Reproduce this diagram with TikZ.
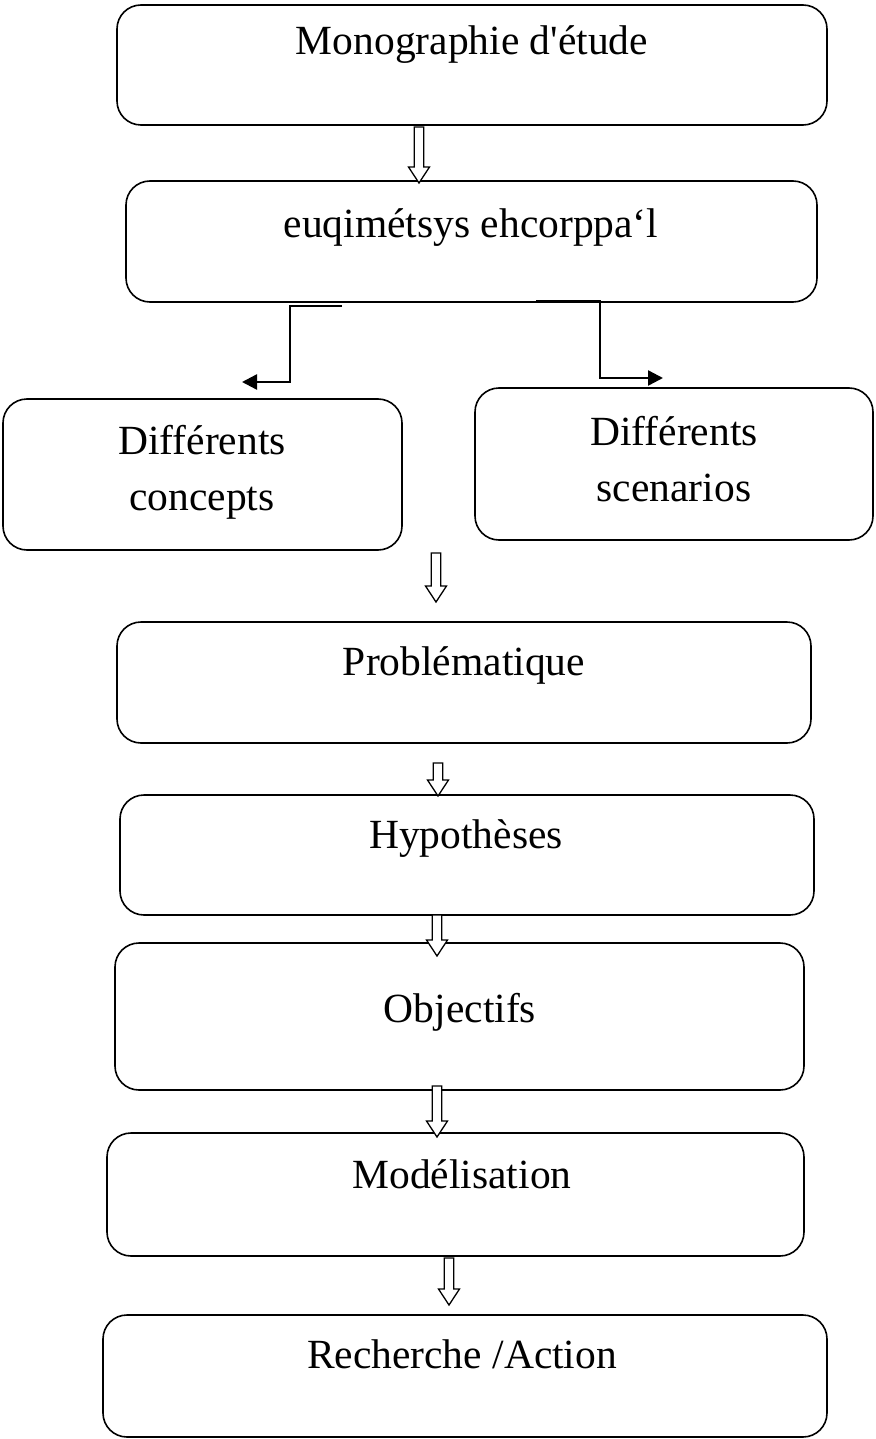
\documentclass[tikz,border=0pt]{standalone}
\usepackage{fontspec}
\setmainfont{Liberation Serif}[Ligatures=TeXOff]
\usetikzlibrary{arrows.meta}
\tikzset{
  x=1pt, y=-1pt,
  box/.style={draw, line width=1.6pt, rounded corners=24pt, inner sep=0pt},
  lbl/.style={anchor=base, inner sep=0pt, font=\fontsize{41.5}{49}\selectfont},
  elbow/.style={line width=2.4pt, -{Triangle[length=15pt,width=15pt]}},
  hollow/.style={draw, line width=1.3pt, fill=white, line join=miter}
}
\newcommand{\hollowarrow}[3]{% x, ytop, ybottom(tip)
  \path[hollow] (#1-4.7,#2) -- (#1+4.7,#2) -- (#1+4.7,#3-16) -- (#1+10.5,#3-16)
    -- (#1,#3) -- (#1-10.5,#3-16) -- (#1-4.7,#3-16) -- cycle;}
\begin{document}
\begin{tikzpicture}
\useasboundingbox (0,0) rectangle (875,1439);
% boxes
\node[box, minimum width=710pt, minimum height=120pt] (b1) at (472,65) {};
\node[box, minimum width=691pt, minimum height=121pt] (b2) at (471.5,241.5) {};
\node[box, minimum width=399pt, minimum height=151pt] (b3) at (202.5,474.5) {};
\node[box, minimum width=398pt, minimum height=152pt] (b4) at (674,464) {};
\node[box, minimum width=694pt, minimum height=121pt] (b5) at (464,682.5) {};
\node[box, minimum width=694pt, minimum height=120pt] (b6) at (467,855) {};
\node[box, minimum width=689pt, minimum height=147pt] (b7) at (459.5,1016.5) {};
\node[box, minimum width=697pt, minimum height=123pt] (b8) at (455.5,1194.5) {};
\node[box, minimum width=724pt, minimum height=122pt] (b9) at (465,1376) {};
% labels
\node[lbl] (t1) at (472,55) {Monographie d'étude};
\node[lbl] (t2) at (471,238) {euqimétsys ehcorppa‘l};
\node[lbl] (t3a) at (202,454) {Différents};
\node[lbl] (t3b) at (202,510) {concepts};
\node[lbl] (t4a) at (674,445) {Différents};
\node[lbl] (t4b) at (674,501) {scenarios};
\node[lbl] (t5) at (464,675) {Problématique};
\node[lbl] (t6) at (466,848) {Hypothèses};
\node[lbl] (t7) at (460,1022) {Objectifs};
\node[lbl] (t8) at (462,1188) {Modélisation};
\node[lbl] (t9) at (462,1368) {Recherche /Action};
% elbow connectors
\coordinate (l0) at (342,306);
\coordinate (l1) at (242,382);
\draw[elbow] (l0) -- (290,306) -- (290,382) -- (l1);
\coordinate (r0) at (536,301.5);
\coordinate (r1) at (663,378);
\draw[elbow] (r0) -- (600,301.5) -- (600,378) -- (r1);
% hollow arrows
\hollowarrow{419}{127}{183}
\hollowarrow{436}{553}{602}
\hollowarrow{438}{763}{796}
\hollowarrow{437}{915}{956}
\hollowarrow{437}{1086}{1137}
\hollowarrow{449}{1258}{1305}
\end{tikzpicture}
\end{document}
